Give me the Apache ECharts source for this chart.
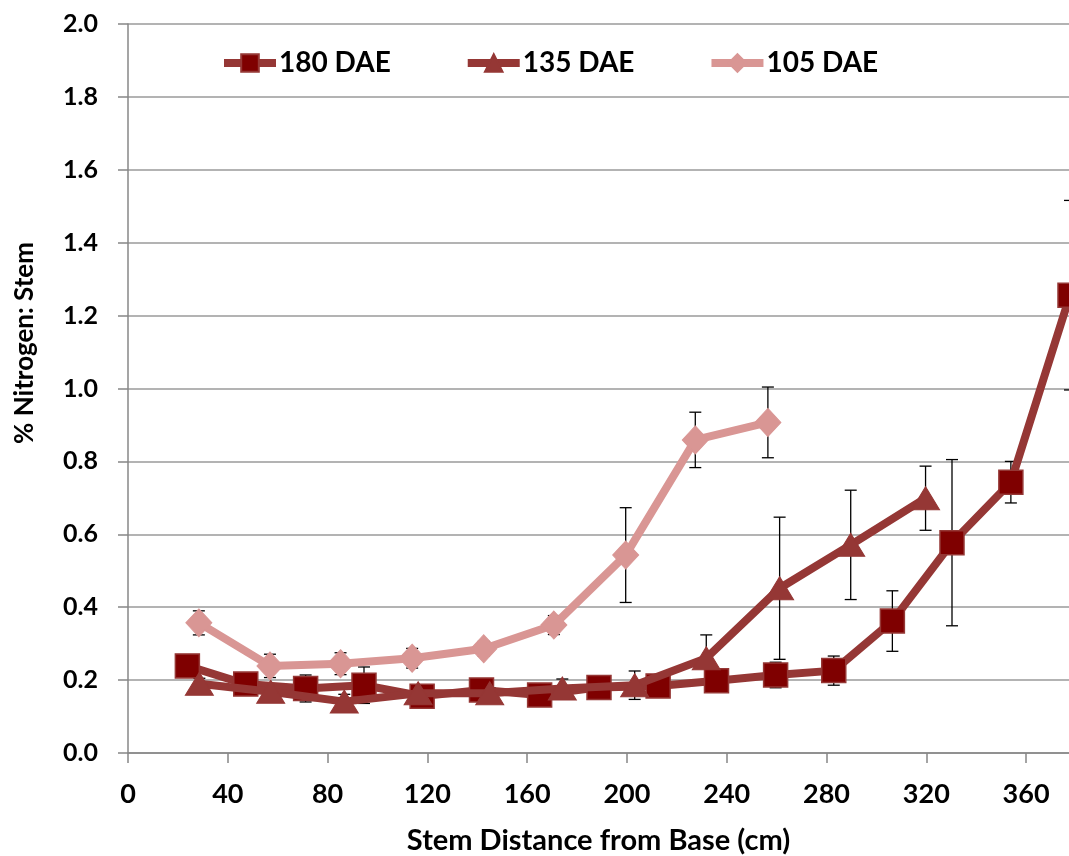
<!DOCTYPE html>
<html>
<head>
<meta charset="utf-8">
<script src="https://cdn.jsdelivr.net/npm/echarts@6/dist/echarts.min.js"></script>
<style>
  html, body { margin: 0; padding: 0; background: #fff; }
  #chart { width: 1069px; height: 856px; }
</style>
</head>
<body>
<div id="chart"></div>
<script>
// Stem nitrogen profiles (mean ± error) by sampling date, days after emergence
const seriesNames = ['180 DAE', '135 DAE', '105 DAE'];

const x180 = [23.8, 47.2, 71.2, 94.6, 117.9, 141.7, 165.0, 188.8, 212.5, 235.9, 259.6, 282.9, 306.4, 330.3, 353.9, 377.6];
const y180 = [0.239, 0.189, 0.177, 0.186, 0.156, 0.173, 0.159, 0.180, 0.184, 0.198, 0.214, 0.226, 0.362, 0.577, 0.743, 1.256];
const e180 = [0.015, 0.015, 0.037, 0.05, 0.015, 0.015, 0.015, 0.015, 0.015, 0.015, 0.035, 0.04, 0.083, 0.228, 0.057, 0.26];

const x135 = [28.6, 57.2, 86.7, 116.3, 145.0, 174.1, 203.1, 231.8, 261.2, 289.7, 319.7];
const y135 = [0.190, 0.168, 0.141, 0.164, 0.164, 0.177, 0.186, 0.260, 0.452, 0.571, 0.699];
const e135 = [0.015, 0.02, 0.02, 0.015, 0.015, 0.026, 0.039, 0.064, 0.195, 0.15, 0.088];

const x105 = [28.4, 56.9, 85.2, 113.9, 142.6, 170.7, 199.5, 227.4, 256.5];
const y105 = [0.357, 0.239, 0.245, 0.260, 0.286, 0.351, 0.543, 0.859, 0.907];
const e105 = [0.033, 0.032, 0.03, 0.027, 0.02, 0.026, 0.13, 0.076, 0.097];

const xTickStep = 40;
const yTickStep = 0.2;

const FONT = 'Lato, "Open Sans", sans-serif';

function pairs(xs, ys) { return xs.map((x, i) => [x, ys[i]]); }
function triples(xs, ys, es) { return xs.map((x, i) => [x, ys[i], es[i]]); }

function errorBarSeries(xs, ys, es) {
  return {
    type: 'custom',
    z: 1,
    silent: true,
    clip: false,
    data: triples(xs, ys, es),
    encode: { x: 0, y: 1 },
    renderItem: function (params, api) {
      const x = api.value(0), y = api.value(1), e = api.value(2);
      const top = api.coord([x, y + e]);
      const bot = api.coord([x, y - e]);
      const half = 6;
      const style = { stroke: '#000', lineWidth: 1.3 };
      return {
        type: 'group',
        children: [
          { type: 'line', shape: { x1: top[0], y1: top[1], x2: bot[0], y2: bot[1] }, style },
          { type: 'line', shape: { x1: top[0] - half, y1: top[1], x2: top[0] + half, y2: top[1] }, style },
          { type: 'line', shape: { x1: bot[0] - half, y1: bot[1], x2: bot[0] + half, y2: bot[1] }, style }
        ]
      };
    }
  };
}

const chart = echarts.init(document.getElementById('chart'));
chart.setOption({
  animation: false,
  backgroundColor: '#fff',
  grid: { left: 128, right: 0, top: 24, bottom: 103, outerBoundsMode: 'none', containLabel: false },
  legend: {
    data: seriesNames,
    left: 220,
    top: 49,
    padding: 0,
    itemGap: 73,
    itemWidth: 52,
    itemHeight: 22,
    lineStyle: { width: 8 },
    textStyle: { fontFamily: FONT, fontWeight: 'bold', fontSize: 28, color: '#000', padding: [0, 0, 0, -2] }
  },
  xAxis: {
    type: 'value',
    min: 0,
    max: 377.2,
    interval: xTickStep,
    splitLine: { show: false },
    axisLine: { lineStyle: { color: '#878787', width: 1.5 } },
    axisTick: { show: true, length: 10, inside: false, lineStyle: { color: '#878787', width: 1.5 } },
    axisLabel: {
      margin: 28,
      fontFamily: FONT, fontWeight: 'bold', fontSize: 27, color: '#000',
      showMaxLabel: false,
      formatter: v => (v % xTickStep === 0 ? String(v) : '')
    },
    name: 'Stem Distance from Base (cm)',
    nameLocation: 'middle',
    nameGap: 73,
    nameTextStyle: { fontFamily: FONT, fontWeight: 'bold', fontSize: 29, color: '#000' }
  },
  yAxis: {
    type: 'value',
    min: 0,
    max: 2,
    interval: yTickStep,
    splitLine: { show: true, lineStyle: { color: '#9a9a9a', width: 1.5 } },
    axisLine: { show: true, lineStyle: { color: '#878787', width: 1.5 } },
    axisTick: { show: true, length: 10, lineStyle: { color: '#878787', width: 1.5 } },
    axisLabel: {
      margin: 30,
      fontFamily: FONT, fontWeight: 'bold', fontSize: 25, color: '#000',
      formatter: v => v.toFixed(1)
    }
  },
  graphic: [{
    type: 'text',
    x: 25,
    y: 343,
    rotation: Math.PI / 2,
    style: {
      text: '% Nitrogen: Stem',
      fontFamily: FONT, fontWeight: 'bold', fontSize: 26, fill: '#000',
      align: 'center', verticalAlign: 'middle'
    }
  }],
  series: [
    errorBarSeries(x180, y180, e180),
    errorBarSeries(x135, y135, e135),
    errorBarSeries(x105, y105, e105),
    {
      name: '180 DAE',
      type: 'line',
      z: 3,
      clip: false,
      data: pairs(x180, y180),
      symbol: 'rect',
      symbolSize: 24,
      lineStyle: { color: '#953735', width: 8 },
      itemStyle: { color: '#7f0000', borderColor: '#953735', borderWidth: 1.5 }
    },
    {
      name: '135 DAE',
      type: 'line',
      z: 4,
      clip: false,
      data: pairs(x135, y135),
      symbol: 'triangle',
      symbolSize: [28, 23],
      lineStyle: { color: '#953735', width: 8 },
      itemStyle: { color: '#953735', borderColor: '#953735', borderWidth: 1 }
    },
    {
      name: '105 DAE',
      type: 'line',
      z: 5,
      clip: false,
      data: pairs(x105, y105),
      symbol: 'diamond',
      symbolSize: [26, 28],
      lineStyle: { color: '#d99694', width: 8 },
      itemStyle: { color: '#d99694', borderColor: '#d99694', borderWidth: 1 }
    }
  ]
});
</script>
</body>
</html>
